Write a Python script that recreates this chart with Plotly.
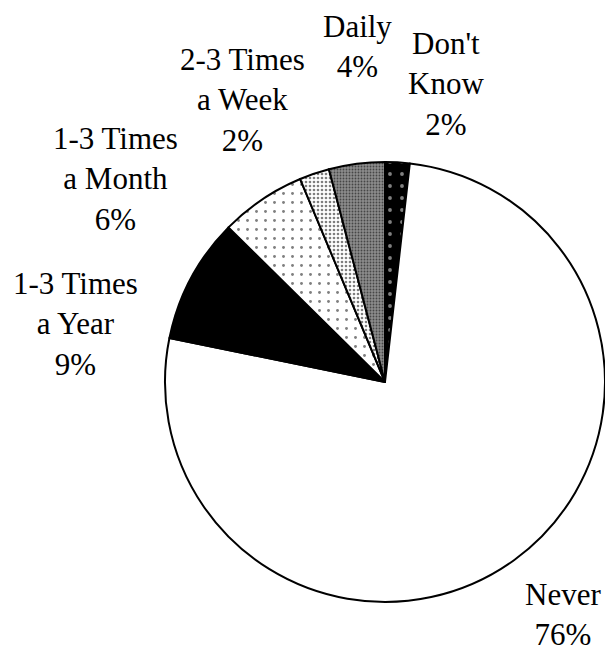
import plotly.graph_objects as go

# Survey responses, in clockwise order starting at 12 o'clock
categories = ["Don't Know", "Never", "1-3 Times a Year", "1-3 Times a Month",
              "2-3 Times a Week", "Daily"]
shares = [1.8, 76.4, 9.2, 6.3, 2.2, 4.1]

# Fill style per slice (black & white print style)
bg_colors = ["black", "white", "black", "white", "white", "#8c8c8c"]
fg_colors = ["white", "black", "black", "black", "black", "black"]
pattern_shapes = [".", "", "", ".", ".", "."]
pattern_sizes = [12, 8, 8, 9, 4, 3]
pattern_solidity = [0.08, 0.3, 0.3, 0.08, 0.35, 0.3]

# Label anchor points (pixels from top-left of the page)
label_xy = [(446, 84), (563, 614), (75, 324), (115, 179), (242, 100), (357, 47)]

W, H = 605, 651
FONT = dict(family="Liberation Serif", size=31, color="black")


def wrap(name):
    return name.replace("Don't ", "Don't<br>").replace(" a ", "<br>a ")


fig = go.Figure(
    go.Pie(
        labels=categories,
        values=shares,
        sort=False,
        direction="clockwise",
        rotation=0,
        textinfo="none",
        hoverinfo="label+percent",
        showlegend=False,
        marker=dict(
            colors=bg_colors,
            line=dict(color="black", width=2),
            pattern=dict(
                shape=pattern_shapes,
                bgcolor=bg_colors,
                fgcolor=fg_colors,
                size=pattern_sizes,
                solidity=pattern_solidity,
                fillmode="overlay",
            ),
        ),
        domain=dict(x=[165 / W, 1.0], y=[1 - 602 / H, 1 - 162 / H]),
    )
)

total = sum(shares)
for name, val, (px, py) in zip(categories, shares, label_xy):
    pct = round(100 * val / total)
    fig.add_annotation(
        x=px / W, y=1 - py / H, xref="paper", yref="paper",
        text=f"{wrap(name)}<br>{pct}%",
        showarrow=False, xanchor="center", yanchor="middle",
        align="center", font=FONT,
    )

fig.update_layout(
    width=W, height=H,
    margin=dict(l=0, r=0, t=0, b=0),
    paper_bgcolor="white", plot_bgcolor="white",
    font=FONT,
)

fig.write_html("out.html")
